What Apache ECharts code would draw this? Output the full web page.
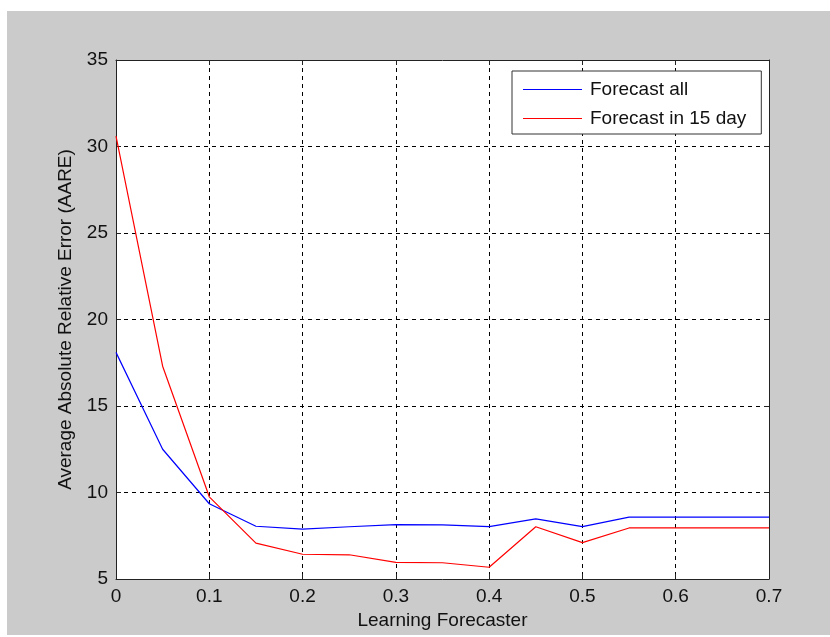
<!DOCTYPE html>
<html>
<head>
<meta charset="utf-8">
<script src="https://cdn.jsdelivr.net/npm/echarts@6/dist/echarts.min.js"></script>
<style>
  html, body { margin: 0; padding: 0; background: #ffffff; }
  #frame { position: absolute; left: 7px; top: 11px; width: 823px; height: 624px; background: #cbcbcb; }
  #chart { position: absolute; left: 0; top: 0; width: 830px; height: 637px; }
</style>
</head>
<body>
<div id="frame"></div>
<div id="chart"></div>
<script>
// Learning-forecaster sweep values
const learningRate = [0, 0.05, 0.1, 0.15, 0.2, 0.25, 0.3, 0.35, 0.4, 0.45, 0.5, 0.55, 0.6, 0.65, 0.7];
const forecastAll = [18.1, 12.5, 9.35, 8.05, 7.88, 8.02, 8.14, 8.13, 8.03, 8.48, 8.03, 8.58, 8.58, 8.58, 8.58];
const forecast15Day = [30.6, 17.3, 9.75, 7.07, 6.43, 6.4, 5.96, 5.94, 5.68, 8.02, 7.1, 7.95, 7.95, 7.95, 7.95];
const seriesNames = ['Forecast all', 'Forecast in 15 day'];
const seriesColors = ['#0000ff', '#ff0000'];
const xTitle = 'Learning Forecaster';
const yTitle = 'Average Absolute Relative Error (AARE)';

const font = 'Arial, "Liberation Sans", Helvetica, sans-serif';
const textColor = '#111111';
const axisColor = '#222222';

// plain line legend key: a thin bar centred in a 59x14 box
const lineKey = 'path://M0,0 L0,0 M0,6.4 L59,6.4 L59,7.6 L0,7.6 Z M59,14 L59,14';

function pairs(ys) {
  return learningRate.map((x, i) => [x, ys[i]]);
}

const boxAxisLine = { show: true, onZero: false, lineStyle: { color: axisColor, width: 1 } };
const tickStyle = { show: true, inside: true, length: 5, lineStyle: { color: axisColor, width: 1 } };
const gridDash = { show: true, lineStyle: { color: '#000000', width: 1, type: [4, 4] } };

const chart = echarts.init(document.getElementById('chart'), null, { renderer: 'canvas' });
chart.setOption({
  backgroundColor: 'transparent',
  animation: false,
  grid: {
    left: 116, right: 61, top: 60, bottom: 58,
    show: true, backgroundColor: '#ffffff', borderWidth: 0
  },
  legend: {
    orient: 'vertical',
    left: 512, top: 71,
    padding: [9, 15, 6, 11],
    itemWidth: 59, itemHeight: 14, itemGap: 10,
    backgroundColor: '#ffffff',
    borderColor: '#333333', borderWidth: 1,
    textStyle: { fontFamily: font, fontSize: 19, color: textColor, padding: [0, 0, 0, 3] },
    data: seriesNames.map((name, i) => ({
      name: name,
      icon: lineKey,
      itemStyle: { color: seriesColors[i], borderWidth: 0 },
      lineStyle: { color: seriesColors[i] }
    }))
  },
  xAxis: [
    {
      type: 'value', min: 0, max: 0.7, interval: 0.1, position: 'bottom',
      name: xTitle, nameLocation: 'middle', nameGap: 32,
      nameTextStyle: { fontFamily: font, fontSize: 19, color: textColor },
      axisLine: boxAxisLine, axisTick: tickStyle,
      axisLabel: { fontFamily: font, fontSize: 19, color: textColor, margin: 8,
                   formatter: v => (Math.round(v * 10) / 10).toString() },
      splitLine: gridDash
    },
    {
      type: 'value', min: 0, max: 0.7, interval: 0.1, position: 'top',
      axisLine: boxAxisLine, axisTick: tickStyle,
      axisLabel: { show: false }, splitLine: { show: false }
    }
  ],
  yAxis: [
    {
      type: 'value', min: 5, max: 35, interval: 5, position: 'left',
      name: yTitle, nameLocation: 'middle', nameGap: 41, nameRotate: 90,
      nameTextStyle: { fontFamily: font, fontSize: 19, color: textColor },
      axisLine: boxAxisLine, axisTick: tickStyle,
      axisLabel: { fontFamily: font, fontSize: 19, color: textColor, margin: 8 },
      splitLine: gridDash
    },
    {
      type: 'value', min: 5, max: 35, interval: 5, position: 'right',
      axisLine: boxAxisLine, axisTick: tickStyle,
      axisLabel: { show: false }, splitLine: { show: false }
    }
  ],
  series: [
    {
      name: seriesNames[0], type: 'line', xAxisIndex: 0, yAxisIndex: 0,
      data: pairs(forecastAll), symbol: 'none', smooth: false,
      lineStyle: { color: seriesColors[0], width: 1.2 }, itemStyle: { color: seriesColors[0] }, z: 3
    },
    {
      name: seriesNames[1], type: 'line', xAxisIndex: 0, yAxisIndex: 0,
      data: pairs(forecast15Day), symbol: 'none', smooth: false,
      lineStyle: { color: seriesColors[1], width: 1.2 }, itemStyle: { color: seriesColors[1] }, z: 4
    }
  ]
});
</script>
</body>
</html>
